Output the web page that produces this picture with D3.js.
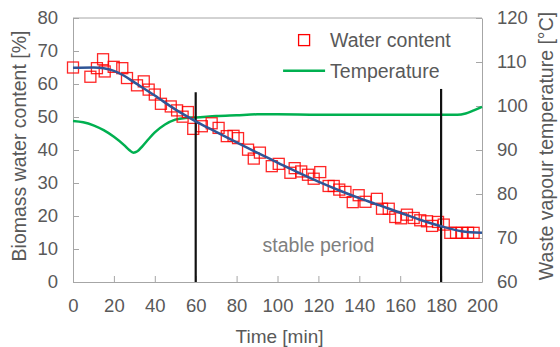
<!DOCTYPE html>
<html>
<head>
<meta charset="utf-8">
<script src="https://cdn.jsdelivr.net/npm/d3@7"></script>
<style>
  body { margin: 0; background: #fff; }
  text { font-family: "Liberation Sans", Arial, sans-serif; }
</style>
</head>
<body>
<div id="chart"></div>
<script>
// measured water content (time [min], %)
var waterTime = [0, 8.5, 11.7, 14.7, 15.5, 19.9, 24.1, 26.4, 31.3, 34.6, 37, 40, 43, 47.8, 50.9, 53.6, 56.2,
  58.8, 63, 67.8, 71.2, 75.2, 78.5, 80.7, 85.6, 88.4, 91.4, 97.2, 100.6, 106.3, 108.4, 111.6, 114.9, 117.7,
  120.9, 125, 127.5, 130.2, 133.2, 136.8, 139.7, 143, 148.6, 151.1, 154.4, 157.6, 160.4, 163.3, 166.6,
  169.8, 173.1, 175.6, 178.5, 181.3, 184.5, 187.3, 190.2, 193.2, 195.9];
var waterValue = [65, 62.2, 64.8, 67.5, 63.8, 65.2, 64.8, 61.8, 59.6, 60.8, 58.3, 56.8, 54, 53.2, 52, 50.1, 51.5,
  46.4, 47.2, 48.1, 46.7, 44.2, 44.3, 43.6, 40.1, 37.4, 39.2, 35.1, 35.8, 33.1, 34.5, 33.5, 32.5, 31.3,
  33.3, 29.1, 29.1, 28, 27.3, 24.2, 26.3, 24.3, 25.2, 22.2, 22.2, 19.7, 19.3, 20.4, 19.4,
  18.7, 18.4, 17, 18.2, 17.4, 14.9, 14.9, 14.9, 14.9, 14.9];

// fitted drying curve
var fitTime = [0, 10, 15, 20, 25, 30, 40, 50, 60, 70, 80, 90, 100, 110, 120, 130, 140, 150, 160, 170, 180, 190, 200];
var fitValue = [64.9, 65, 64.8, 64, 62.5, 60.5, 56.5, 52.3, 48.7, 45.5, 42.3, 39.2, 36.2, 33.2, 30.4, 27.8, 25.4, 23.2, 21.0, 18.8, 16.9, 15.4, 14.9];

// waste vapour temperature [°C]
var tempTime = [0, 5, 10, 15, 20, 25, 27.5, 29.5, 31.5, 34, 37, 40, 45, 50, 55, 60, 70, 80, 90, 100, 120, 140, 160, 180, 188, 192, 196, 200];
var tempValue = [96.6, 96.3, 95.6, 94.5, 93.0, 91.1, 90.0, 89.4, 89.7, 90.9, 92.5, 94.0, 95.8, 96.9, 97.3, 97.4, 97.7, 97.9, 98.1, 98.1, 98.0, 98.0, 98.0, 98.0, 98.0, 98.3, 99.0, 99.8];

// stable period boundaries
var markTime = [60, 180];
var markTop = [57.5, 58.5];

var xTicks = [0, 20, 40, 60, 80, 100, 120, 140, 160, 180, 200];
var yTicks = [0, 10, 20, 30, 40, 50, 60, 70, 80];
var y2Ticks = [60, 70, 80, 90, 100, 110, 120];

var W = 560, H = 347;
var margin = {top: 18, right: 78, bottom: 65, left: 73},
    width = W - margin.left - margin.right,
    height = H - margin.top - margin.bottom;

var svg = d3.select("#chart").append("svg")
    .attr("width", W).attr("height", H);
var g = svg.append("g")
    .attr("transform", "translate(" + margin.left + "," + margin.top + ")");

var x = d3.scaleLinear().domain([0, 200]).range([0, width]);
var y = d3.scaleLinear().domain([0, 80]).range([height, 0]);
var y2 = d3.scaleLinear().domain([60, 120]).range([height, 0]);

var grey = "#595959", axisGrey = "#a6a6a6";

// axes (ticks point inwards)
var xAxis = g.append("g").attr("transform", "translate(0," + height + ")")
    .call(d3.axisBottom(x).tickValues(xTicks).tickSizeInner(-6).tickSizeOuter(0).tickPadding(17));
var yAxis = g.append("g")
    .call(d3.axisLeft(y).tickValues(yTicks).tickSizeInner(-6).tickSizeOuter(0).tickPadding(15));
var y2Axis = g.append("g").attr("transform", "translate(" + width + ",0)")
    .call(d3.axisRight(y2).tickValues(y2Ticks).tickSizeInner(-6).tickSizeOuter(0).tickPadding(15));
[xAxis, yAxis, y2Axis].forEach(function(a) {
  a.select(".domain").attr("stroke", axisGrey);
  a.selectAll(".tick line").attr("stroke", axisGrey);
  a.selectAll(".tick text").attr("fill", grey).attr("font-size", 18.5)
    .style("font-family", "'Liberation Sans', Arial, sans-serif");
});
// top border
g.append("line").attr("x1", 0).attr("x2", width).attr("y1", 0).attr("y2", 0).attr("stroke", axisGrey);

// temperature line
var tData = tempTime.map(function(t, i) { return [t, tempValue[i]]; });
g.append("path").datum(tData)
    .attr("fill", "none").attr("stroke", "#00b050").attr("stroke-width", 2.5)
    .attr("d", d3.line().curve(d3.curveMonotoneX)
      .x(function(d) { return x(d[0]); }).y(function(d) { return y2(d[1]); }));

// water content squares
var wData = waterTime.map(function(t, i) { return [t, waterValue[i]]; });
var sq = 11;
g.selectAll("rect.pt").data(wData).enter().append("rect")
    .attr("class", "pt")
    .attr("x", function(d) { return x(d[0]) - sq / 2; })
    .attr("y", function(d) { return y(d[1]) - sq / 2; })
    .attr("width", sq).attr("height", sq)
    .attr("fill", "none").attr("stroke", "#ff0000").attr("stroke-opacity", 0.85).attr("stroke-width", 1.3);

// stable period markers
g.selectAll("line.mark").data(markTime).enter().append("line")
    .attr("class", "mark")
    .attr("x1", function(d) { return x(d); }).attr("x2", function(d) { return x(d); })
    .attr("y1", function(d, i) { return y(markTop[i]); }).attr("y2", height)
    .attr("stroke", "#111").attr("stroke-width", 2.2);

// fitted curve
var fData = fitTime.map(function(t, i) { return [t, fitValue[i]]; });
g.append("path").datum(fData)
    .attr("fill", "none").attr("stroke", "#2f5597").attr("stroke-width", 2.5)
    .attr("d", d3.line().curve(d3.curveMonotoneX)
      .x(function(d) { return x(d[0]); }).y(function(d) { return y(d[1]); }));

g.append("text")
    .attr("x", x(120)).attr("y", y(9.2))
    .attr("text-anchor", "middle").attr("fill", "#7f7f7f").attr("font-size", 19.5)
    .text("stable period");

// legend
var leg = g.append("g").attr("transform", "translate(" + x(113) + ",0)");
leg.append("rect").attr("x", x(0) - sq / 2).attr("y", y(73.3) - sq / 2)
    .attr("width", sq).attr("height", sq)
    .attr("fill", "none").attr("stroke", "#ff0000").attr("stroke-width", 1.3);
leg.append("text").attr("x", 26).attr("y", y(73.3) + 7)
    .attr("fill", grey).attr("font-size", 19.5).text("Water content");
leg.append("line").attr("x1", -21).attr("x2", 21).attr("y1", y(64)).attr("y2", y(64))
    .attr("stroke", "#00b050").attr("stroke-width", 2.5);
leg.append("text").attr("x", 26).attr("y", y(64) + 7)
    .attr("fill", grey).attr("font-size", 19.5).text("Temperature");

// axis titles
svg.append("text")
    .attr("x", margin.left + width / 2 + 2).attr("y", H - 4)
    .attr("text-anchor", "middle").attr("fill", grey).attr("font-size", 19)
    .text("Time [min]");
svg.append("text")
    .attr("transform", "translate(" + 26 + "," + (margin.top + height / 2 - 4) + ")rotate(-90)")
    .attr("text-anchor", "middle").attr("fill", grey).attr("font-size", 19.5)
    .text("Biomass water content [%]");
svg.append("text")
    .attr("transform", "translate(" + 553 + "," + (margin.top + height / 2 - 4) + ")rotate(-90)")
    .attr("text-anchor", "middle").attr("fill", grey).attr("font-size", 19.5)
    .text("Waste vapour temperature [°C]");
</script>
</body>
</html>
